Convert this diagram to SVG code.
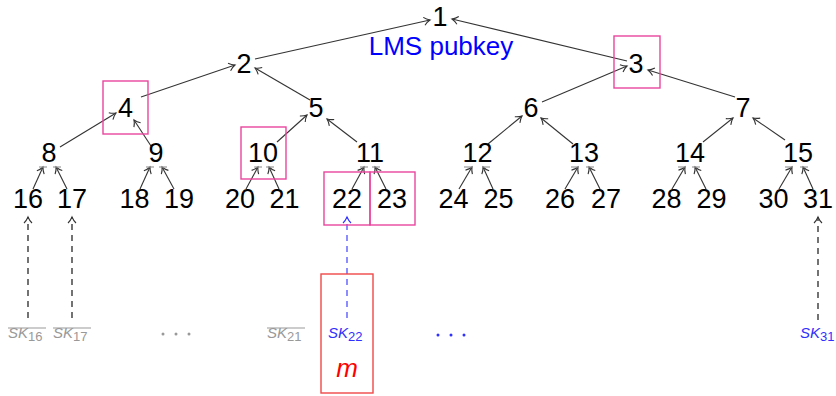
<svg xmlns="http://www.w3.org/2000/svg" width="836" height="396" viewBox="0 0 836 396">
<style>
.n{font-family:"Liberation Sans",Arial,sans-serif;font-size:27px;fill:#000;text-anchor:middle}
.e{stroke:#333;stroke-width:1.1;fill:none;marker-end:url(#ah)}
.bar{stroke:#999;stroke-width:1.2}
.d{stroke:#000;stroke-width:1.1;stroke-dasharray:6 5;fill:none;marker-end:url(#ah)}
.db{stroke:#3030ff;stroke-width:1.1;stroke-dasharray:6 5;fill:none;marker-end:url(#ahb)}
.box{fill:none;stroke:#e8459f;stroke-width:1.4}
.sk{font-family:"Liberation Sans",Arial,sans-serif;font-size:15px;font-style:italic}
.sub{font-size:13px;font-style:normal}
.g{fill:#999}
.b{fill:#3030ff}
</style>
<defs>
<marker id="ah" viewBox="-8 -5 10 10" refX="0" refY="0" markerWidth="10" markerHeight="10" orient="auto" markerUnits="userSpaceOnUse">
<path d="M-6,-4 C-4,-2 -1.5,-0.6 0,0 C-1.5,0.6 -4,2 -6,4" fill="none" stroke="#333" stroke-width="1.1"/>
</marker>
<marker id="ahb" viewBox="-8 -5 10 10" refX="0" refY="0" markerWidth="10" markerHeight="10" orient="auto" markerUnits="userSpaceOnUse">
<path d="M-6,-4 C-4,-2 -1.5,-0.6 0,0 C-1.5,0.6 -4,2 -6,4" fill="none" stroke="#3030ff" stroke-width="1.1"/>
</marker>
</defs>
<g id="connectors">
<line class="e" x1="255" y1="59" x2="430" y2="20"/>
<line class="e" x1="627" y1="61" x2="452" y2="19"/>
<line class="e" x1="141" y1="97" x2="235" y2="65"/>
<line class="e" x1="310" y1="100" x2="255" y2="68"/>
<line class="e" x1="542" y1="102" x2="627" y2="66"/>
<line class="e" x1="735" y1="97" x2="648" y2="70"/>
<line class="e" x1="60" y1="147" x2="116" y2="113"/>
<line class="e" x1="151" y1="146" x2="134" y2="120"/>
<line class="e" x1="277" y1="142" x2="307" y2="115"/>
<line class="e" x1="357" y1="142" x2="327" y2="119"/>
<line class="e" x1="488" y1="144" x2="522" y2="116"/>
<line class="e" x1="573" y1="144" x2="541" y2="118"/>
<line class="e" x1="703" y1="142" x2="733" y2="118"/>
<line class="e" x1="785" y1="140" x2="753" y2="118"/>
<line class="e" x1="33" y1="189" x2="43" y2="167"/>
<line class="e" x1="67" y1="189" x2="56" y2="167"/>
<line class="e" x1="140" y1="189" x2="150" y2="167"/>
<line class="e" x1="174" y1="189" x2="162" y2="167"/>
<line class="e" x1="246" y1="189" x2="258" y2="167"/>
<line class="e" x1="279" y1="189" x2="269" y2="167"/>
<line class="e" x1="352" y1="189" x2="364" y2="167"/>
<line class="e" x1="386" y1="189" x2="375" y2="167"/>
<line class="e" x1="459" y1="189" x2="472" y2="167"/>
<line class="e" x1="493" y1="189" x2="483" y2="167"/>
<line class="e" x1="565" y1="189" x2="578" y2="167"/>
<line class="e" x1="600" y1="189" x2="589" y2="167"/>
<line class="e" x1="672" y1="189" x2="685" y2="167"/>
<line class="e" x1="706" y1="189" x2="695" y2="167"/>
<line class="e" x1="779" y1="189" x2="792" y2="167"/>
<line class="e" x1="813" y1="189" x2="803" y2="167"/>
<g class="bar">
<line x1="39" y1="167" x2="47" y2="167"/><line x1="53" y1="167" x2="61" y2="167"/>
<line x1="146" y1="167" x2="154" y2="167"/><line x1="159" y1="167" x2="167" y2="167"/>
<line x1="254" y1="167" x2="262" y2="167"/><line x1="266" y1="167" x2="274" y2="167"/>
<line x1="360" y1="167" x2="368" y2="167"/><line x1="372" y1="167" x2="380" y2="167"/>
<line x1="464" y1="167" x2="473" y2="167"/><line x1="482" y1="167" x2="490" y2="167"/>
<line x1="571" y1="167" x2="579" y2="167"/><line x1="586" y1="167" x2="594" y2="167"/>
<line x1="678" y1="167" x2="686" y2="167"/><line x1="692" y1="167" x2="700" y2="167"/>
<line x1="785" y1="167" x2="793" y2="167"/><line x1="800" y1="167" x2="808" y2="167"/>
</g>
<line class="d" x1="28" y1="318" x2="28" y2="217"/>
<line class="d" x1="72" y1="318" x2="72" y2="217"/>
<line class="d" x1="818" y1="320" x2="818" y2="217"/>
<line class="db" x1="347" y1="318" x2="347" y2="217"/>
</g>
<g id="n1"><text class="n" x="440" y="26">1</text></g>
<g id="pubkey"><text x="441" y="55" font-family="Liberation Sans,Arial,sans-serif" font-size="26" fill="#0000ff" text-anchor="middle">LMS pubkey</text></g>
<g id="n2"><text class="n" x="244" y="73">2</text></g>
<g id="n3"><rect class="box" x="614" y="36" width="46" height="52"/><text class="n" x="636" y="73">3</text></g>
<g id="n4"><rect class="box" x="103" y="81" width="45" height="53"/><text class="n" x="125.5" y="117">4</text></g>
<g id="n5"><text class="n" x="316" y="117">5</text></g>
<g id="n6"><text class="n" x="531" y="117">6</text></g>
<g id="n7"><text class="n" x="743" y="117">7</text></g>
<g id="n8"><text class="n" x="49" y="162">8</text></g>
<g id="n9"><text class="n" x="156" y="162">9</text></g>
<g id="n10"><rect class="box" x="241" y="127" width="45" height="52"/><text class="n" x="263" y="162">10</text></g>
<g id="n11"><text class="n" x="370" y="162">11</text></g>
<g id="n12"><text class="n" x="477.5" y="162">12</text></g>
<g id="n13"><text class="n" x="584" y="162">13</text></g>
<g id="n14"><text class="n" x="690" y="162">14</text></g>
<g id="n15"><text class="n" x="798" y="162">15</text></g>
<g id="n16"><text class="n" x="28" y="208">16</text></g>
<g id="n17"><text class="n" x="72" y="208">17</text></g>
<g id="n18"><text class="n" x="134.5" y="208">18</text></g>
<g id="n19"><text class="n" x="179" y="208">19</text></g>
<g id="n20"><text class="n" x="240" y="208">20</text></g>
<g id="n21"><text class="n" x="284.5" y="208">21</text></g>
<g id="n22"><rect class="box" x="324" y="172" width="46" height="53"/><text class="n" x="347" y="208">22</text></g>
<g id="n23"><rect class="box" x="370" y="172" width="45" height="53"/><text class="n" x="392" y="208">23</text></g>
<g id="n24"><text class="n" x="453.5" y="208">24</text></g>
<g id="n25"><text class="n" x="498.5" y="208">25</text></g>
<g id="n26"><text class="n" x="560" y="208">26</text></g>
<g id="n27"><text class="n" x="606" y="208">27</text></g>
<g id="n28"><text class="n" x="666.5" y="208">28</text></g>
<g id="n29"><text class="n" x="711.5" y="208">29</text></g>
<g id="n30"><text class="n" x="773.5" y="208">30</text></g>
<g id="n31"><text class="n" x="818" y="208">31</text></g>
<g id="sk16"><text class="sk g" x="8" y="338">SK<tspan class="sub" dy="3">16</tspan></text><line x1="8" y1="328" x2="46" y2="328" stroke="#999" stroke-width="1"/></g>
<g id="sk17"><text class="sk g" x="53" y="338">SK<tspan class="sub" dy="3">17</tspan></text><line x1="53" y1="328" x2="91" y2="328" stroke="#999" stroke-width="1"/></g>
<g id="dots1" class="g"><circle cx="163" cy="334" r="1.5"/><circle cx="176" cy="334" r="1.5"/><circle cx="189" cy="334" r="1.5"/></g>
<g id="sk21"><text class="sk g" x="267" y="338">SK<tspan class="sub" dy="3">21</tspan></text><line x1="267" y1="328" x2="305" y2="328" stroke="#999" stroke-width="1"/></g>
<g id="msg"><rect x="321" y="274" width="52" height="119" fill="none" stroke="#f04848" stroke-width="1.4"/><text class="sk b" x="328" y="338">SK<tspan class="sub" dy="3">22</tspan></text><text x="347" y="377" font-family="Liberation Sans,Arial,sans-serif" font-size="26" font-style="italic" fill="#ff0000" text-anchor="middle">m</text></g>
<g id="dots2" class="b"><circle cx="438" cy="335" r="1.5"/><circle cx="451" cy="335" r="1.5"/><circle cx="464" cy="335" r="1.5"/></g>
<g id="sk31"><text class="sk b" x="800" y="338">SK<tspan class="sub" dy="3">31</tspan></text></g>
</svg>
